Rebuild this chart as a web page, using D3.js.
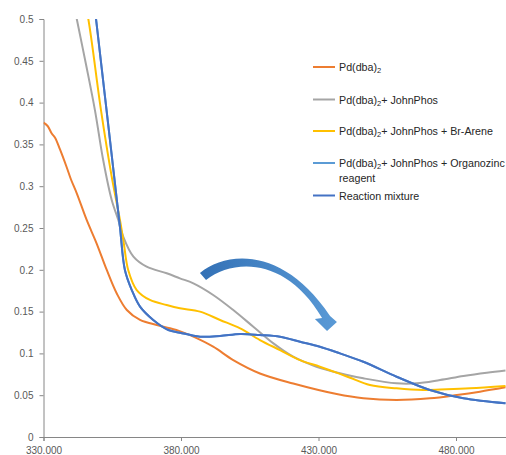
<!DOCTYPE html>
<html><head><meta charset="utf-8">
<script src="https://cdn.jsdelivr.net/npm/d3@7/dist/d3.min.js"></script>
<style>body{margin:0;background:#fff}svg{display:block}</style>
</head><body>
<svg id="c" width="506" height="455"></svg>
<script>
// ---- data (wavelength nm, absorbance) ----
const wlPd = [330,331.5,333,334.2,336,338.4,340,342.1,345.7,349.3,353.0,356.6,360.3,365.1,371.2,376.0,380,384.5,391.7,399.0,408.7,420.8,436.6,446.3,458.4,470.5,480.3,488.7,498];
const absPd = [0.376,0.372,0.363,0.358,0.344,0.323,0.308,0.2915,0.2596,0.2317,0.1998,0.1719,0.1519,0.140,0.134,0.130,0.126,0.120,0.108,0.092,0.076,0.064,0.0514,0.0463,0.0443,0.0463,0.0502,0.0542,0.0594];

const wlJohn = [339.5,342.1,345.5,348.7,351.7,354.8,357.2,359.0,362.7,367.5,374.8,379.6,384.5,391.7,399.0,406.3,413.6,420.8,428.1,434.5,440,446.3,458.4,465.7,474.2,482.7,491.2,498];
const absJohn = [0.545,0.5,0.445,0.391,0.3313,0.2835,0.2596,0.2396,0.2157,0.2037,0.1958,0.1898,0.1838,0.1699,0.1519,0.1319,0.112,0.096,0.0855,0.079,0.0745,0.0702,0.0642,0.0642,0.0682,0.073,0.0769,0.0795];

const wlBr = [343.5,346.3,350.9,354.8,357.8,359.2,360.8,363.9,368.7,374.8,379.6,386.9,394.2,401.5,408.7,416.0,423.3,430.5,437.8,441.5,448.7,458.4,468.1,476.6,485.1,498];
const absBr = [0.545,0.5,0.391,0.3114,0.2596,0.2317,0.1998,0.1758,0.1639,0.1579,0.154,0.150,0.140,0.130,0.116,0.104,0.092,0.0841,0.0755,0.0709,0.0622,0.0582,0.0562,0.057,0.0582,0.061];

const wlZn = [347.5,349.1,352.4,355.5,357.8,359.6,362.1,365.1,369.9,375.4,379.6,386.9,394.2,401.5,408.7,416.0,423.3,430.5,437.8,446.3,458.4,470.5,482.7,498];
const absZn = [0.546,0.5,0.406,0.317,0.251,0.1998,0.1758,0.1559,0.140,0.128,0.1248,0.120,0.1208,0.1232,0.122,0.120,0.114,0.108,0.100,0.090,0.0721,0.0562,0.0463,0.0403];

const wlMix = [347.5,349.1,352.4,355.5,357.8,359.6,362.1,365.1,369.9,375.4,379.6,386.9,394.2,401.5,408.7,416.0,423.3,430.5,437.8,446.3,458.4,470.5,482.7,498];
const absMix = [0.546,0.5,0.406,0.317,0.251,0.1998,0.1758,0.1559,0.140,0.128,0.1248,0.120,0.1208,0.1232,0.122,0.120,0.114,0.108,0.100,0.090,0.0721,0.0562,0.0463,0.0403];

const seriesNames = ["Pd(dba)2","Pd(dba)2+ JohnPhos","Pd(dba)2+ JohnPhos + Br-Arene","Pd(dba)2+ JohnPhos + Organozinc reagent","Reaction mixture"];
const seriesColors = ["#ED7D31","#A5A5A5","#FFC000","#5B9BD5","#4472C4"];
const xTicks = [330,380,430,480];
const yTicks = [0,0.05,0.1,0.15,0.2,0.25,0.3,0.35,0.4,0.45,0.5];
const yTickLabels = ["0","0.05","0.1","0.15","0.2","0.25","0.3","0.35","0.4","0.45","0.5"];
// curved arrow annotation (data coordinates)
const arrowPts = {
  A:[386.9,0.1962], c1:[397.1,0.2237], c2:[417.8,0.2261], B:[434.2,0.1447],
  H1:[436.7,0.1376], T:[433.1,0.1268], H2:[428.7,0.1411], C:[431.3,0.1423],
  c3:[418.5,0.2140], c4:[399.6,0.2140], D:[389.1,0.1878]
};

// ---- drawing ----
const svg = d3.select("#c");
const x = d3.scaleLinear().domain([330,500]).range([43.5,511]);
const y = d3.scaleLinear().domain([0,0.5]).range([437,19]);
const font = "'Liberation Sans', Arial, sans-serif";

const defs = svg.append("defs");
defs.append("clipPath").attr("id","clip").append("rect")
  .attr("x",43.5).attr("y",y(0.5)).attr("width",470).attr("height",y(0)-y(0.5));
const grad = defs.append("linearGradient").attr("id","ag").attr("gradientUnits","userSpaceOnUse")
  .attr("x1",x(386)).attr("y1",0).attr("x2",x(437)).attr("y2",0);
grad.append("stop").attr("offset","0").attr("stop-color","#3270b5");
grad.append("stop").attr("offset","1").attr("stop-color","#5a9ad6");

// axes
const axisColor = "#868686", textColor = "#595959";
const yAxis = svg.append("g").attr("transform","translate(43.5,0)")
  .call(d3.axisLeft(y).tickValues(yTicks).tickFormat((d,i)=>yTickLabels[i]).tickSize(4).tickPadding(6));
const xAxis = svg.append("g").attr("transform",`translate(0,${y(0)})`)
  .call(d3.axisBottom(x).tickValues(xTicks).tickFormat(d3.format(".3f")).tickSize(4).tickPadding(6));
[yAxis,xAxis].forEach(g=>{
  g.select(".domain").attr("stroke",axisColor).attr("stroke-width",1);
  g.selectAll(".tick line").attr("stroke",axisColor);
  g.selectAll("text").attr("fill",textColor).style("font-family",font).style("font-size","10px");
});

// lines
const wls = [wlPd,wlJohn,wlBr,wlZn,wlMix];
const abss = [absPd,absJohn,absBr,absZn,absMix];
const line = d3.line().x(d=>x(d[0])).y(d=>y(d[1])).curve(d3.curveCatmullRom.alpha(0.5));
const plot = svg.append("g").attr("clip-path","url(#clip)");
wls.forEach((w,i)=>{
  const pts = w.map((v,j)=>[v,abss[i][j]]);
  plot.append("path").datum(pts).attr("d",line).attr("fill","none")
    .attr("stroke",seriesColors[i]).attr("stroke-width",2).attr("stroke-linejoin","round");
});

// arrow
const P = k=>[x(arrowPts[k][0]),y(arrowPts[k][1])];
const ap = d3.path();
ap.moveTo(...P("A"));
ap.bezierCurveTo(...P("c1"),...P("c2"),...P("B"));
ap.lineTo(...P("H1")); ap.lineTo(...P("T")); ap.lineTo(...P("H2")); ap.lineTo(...P("C"));
ap.bezierCurveTo(...P("c3"),...P("c4"),...P("D"));
ap.closePath();
svg.append("path").attr("d",ap.toString()).attr("fill","url(#ag)");

// legend
const legX = 313, legTextX = 339;
const legRows = [67,99.5,131,163,195.5];
const leg = svg.append("g").style("font-family",font).style("font-size","10.7px").attr("fill","#262626");
seriesNames.forEach((n,i)=>{
  const ly = legRows[i];
  leg.append("line").attr("x1",legX).attr("x2",legX+22).attr("y1",ly).attr("y2",ly)
    .attr("stroke",seriesColors[i]).attr("stroke-width",2);
  const t = leg.append("text").attr("x",legTextX).attr("y",ly+4);
  let rest = n;
  if (n.startsWith("Pd(dba)2")) {
    t.append("tspan").text("Pd(dba)");
    t.append("tspan").text("2").attr("font-size","7.5px").attr("dy",2);
    rest = n.slice(8);
    const extra = rest.replace(" reagent","");
    if (extra) t.append("tspan").text(extra).attr("dy",-2);
    if (rest.includes("reagent")) {
      leg.append("text").attr("x",legTextX).attr("y",ly+4+14.5).text("reagent");
    }
  } else {
    t.text(n);
  }
});
</script>
</body></html>
